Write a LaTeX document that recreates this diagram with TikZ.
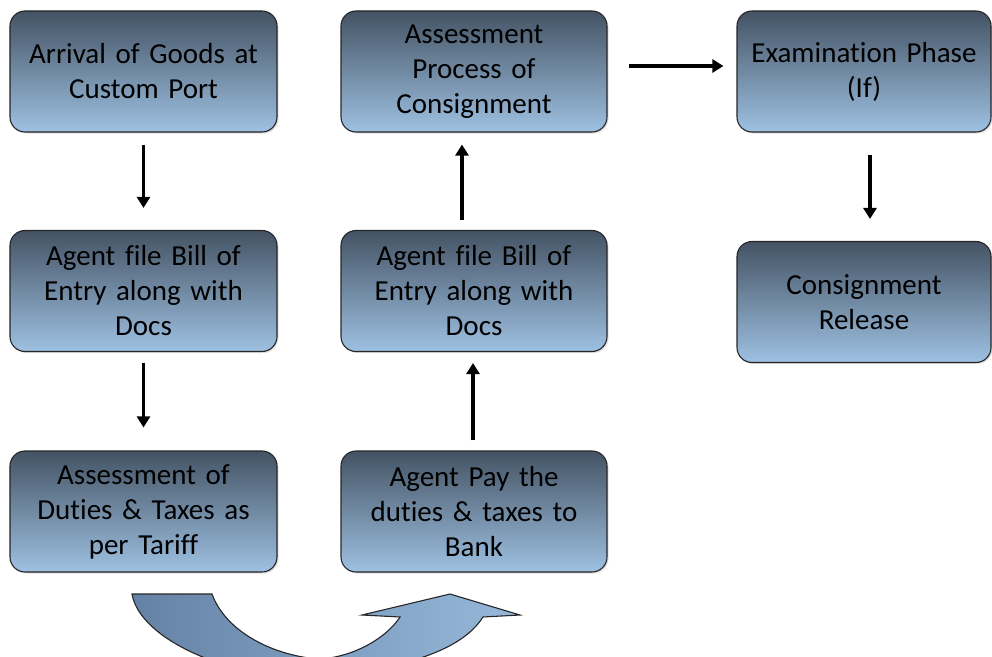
\documentclass[tikz,border=0pt]{standalone}
\usepackage{fontspec}
\setmainfont[Ligatures=NoCommon]{Carlito}
\usetikzlibrary{arrows.meta,shadows}
\definecolor{boxtop}{RGB}{68,83,100}
\definecolor{boxbot}{RGB}{158,193,226}
\definecolor{cleft}{RGB}{100,130,165}
\definecolor{cright}{RGB}{150,185,218}
\tikzset{
  stepbox/.style={draw=black!85, line width=1.1bp, rounded corners=15bp,
    top color=boxtop, bottom color=boxbot, minimum height=121bp,
    text width=250bp, align=center, inner sep=0pt,
    font=\fontsize{29bp}{35bp}\selectfont, text=black,
    drop shadow={opacity=0.25, shadow xshift=1.5bp, shadow yshift=-1.5bp}},
  flow/.style={line width=3.5bp, -{Triangle[length=11bp,width=13bp]}}
}
\begin{document}
\begin{tikzpicture}[x=1bp,y=-1bp]
\useasboundingbox (0,0) rectangle (992,657);
\node[stepbox, minimum width=267bp] (arr) at (143.5,71.5) {Arrival of Goods at\\Custom Port};
\node[stepbox, minimum width=267bp] (bill1) at (143.5,291) {Agent file Bill of\\Entry along with\\Docs};
\node[stepbox, minimum width=267bp] (duty) at (143.5,511.5) {Assessment of\\Duties \& Taxes as\\per Tariff};
\node[stepbox, minimum width=266bp] (proc) at (474,71.5) {Assessment\\Process of\\Consignment};
\node[stepbox, minimum width=266bp] (bill2) at (474,291) {Agent file Bill of\\Entry along with\\Docs};
\node[stepbox, minimum width=266bp] (pay) at (474,511.5) {Agent Pay the\\duties \& taxes to\\Bank};
\node[stepbox, minimum width=254bp] (exam) at (864,71.5) {Examination Phase\\(If)};
\node[stepbox, minimum width=254bp] (rel) at (864,302) {Consignment\\Release};

\draw[flow, shorten <=12bp, shorten >=22bp] (arr.south) -- (bill1.north);
\draw[flow, shorten <=11bp, shorten >=23bp] (bill1.south) -- (duty.north);
\draw[flow, shorten <=10bp, shorten >=11bp] ([xshift=-1bp]pay.north) -- ([xshift=-1bp]bill2.south);
\draw[flow, shorten <=10bp, shorten >=12bp] ([xshift=-12bp]bill2.north) -- ([xshift=-12bp]proc.south);
\draw[flow, shorten <=21bp, shorten >=13bp] ([yshift=5.5bp]proc.east) -- ([yshift=5.5bp]exam.west);
\draw[flow, shorten <=22bp, shorten >=22bp] ([xshift=6bp]exam.south) -- ([xshift=6bp]rel.north);

\begin{scope}
\clip (0,0) rectangle (992,657);
\draw[line width=1.1bp, draw=black!85, left color=cleft, right color=cright, shading angle=90]
  (132,594) -- (212,594)
  .. controls (225,630) and (270,655) .. (318,659)
  .. controls (350,658) and (385,640) .. (400,617)
  -- (362,615) -- (450,594) -- (520,615) -- (483,617)
  .. controls (465,645) and (420,668) .. (310,678)
  .. controls (230,678) and (140,640) .. (132,594) -- cycle;
\end{scope}
\end{tikzpicture}
\end{document}
